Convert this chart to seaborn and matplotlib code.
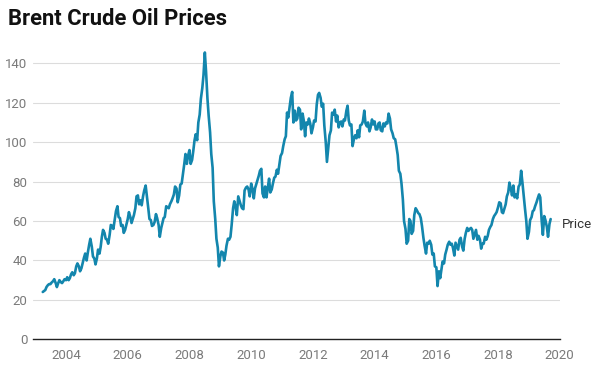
import pandas as pd
import numpy as np
import matplotlib
matplotlib.use("Agg")
import matplotlib.pyplot as plt
import seaborn as sns

# ====================
# 数据 (semi-monthly readings, USD per barrel)
# ====================
p2003 = [24.0, 24.5, 25.0, 26.5, 27.5, 28.0, 28.0, 28.8, 29.5, 30.5, 28.5, 26.5,
         28.5, 30.0, 29.0, 28.5, 29.5, 30.5]  # from April
p2004 = [30.0, 31.5, 30.0, 31.0, 33.0, 34.0, 32.5, 33.5, 37.0, 38.5, 37.0, 34.5,
         36.0, 38.5, 41.5, 43.5, 40.0, 44.0, 48.0, 51.0, 47.0, 42.0, 41.0, 38.0]
p2005 = [41.0, 45.5, 43.5, 47.0, 52.0, 55.5, 54.0, 51.0, 50.5, 48.5, 53.0, 58.0,
         57.5, 56.0, 61.0, 65.0, 67.5, 62.0, 61.5, 57.5, 58.0, 54.0, 55.5, 58.0]
p2006 = [61.0, 64.5, 62.0, 59.0, 61.0, 63.0, 66.5, 72.5, 73.0, 68.5, 70.5, 68.0,
         72.5, 75.5, 78.0, 73.0, 66.5, 61.0, 60.5, 57.5, 58.0, 59.5, 63.5, 61.5]
p2007 = [58.0, 52.0, 56.5, 59.0, 61.5, 62.0, 67.5, 67.0, 66.5, 68.5, 70.0, 71.5,
         73.5, 77.5, 76.5, 69.5, 73.0, 78.5, 79.0, 83.5, 89.0, 94.0, 89.0, 93.0]
p2008 = [96.0, 89.0, 91.0, 95.5, 101.0, 104.0, 101.0, 110.0, 114.0, 122.0, 127.5, 134.0,
         145.5, 136.0, 122.0, 113.5, 105.0, 94.0, 87.0, 70.0, 61.0, 51.0, 46.5, 37.0]
p2009 = [42.0, 44.5, 44.0, 40.0, 43.0, 47.5, 51.0, 50.5, 52.0, 58.0, 66.5, 70.0,
         67.0, 63.0, 72.5, 70.5, 68.0, 66.5, 66.0, 75.5, 77.0, 77.5, 76.0, 72.5]
p2010 = [79.0, 76.5, 71.5, 76.5, 78.5, 80.5, 83.0, 85.5, 86.5, 74.0, 72.0, 77.5,
         72.0, 76.5, 81.5, 74.5, 76.0, 79.0, 82.0, 82.5, 86.0, 84.0, 89.0, 93.0]
p2011 = [94.5, 98.0, 101.5, 103.0, 115.0, 112.5, 118.0, 122.5, 125.5, 110.0, 116.0, 111.0,
         112.0, 117.5, 116.5, 106.5, 114.5, 111.0, 103.0, 110.0, 109.0, 112.0, 109.5, 104.5]
p2012 = [107.5, 111.0, 110.5, 119.0, 124.0, 125.0, 122.5, 118.0, 119.5, 108.5, 100.0, 90.0,
         97.5, 103.5, 106.0, 115.0, 114.0, 116.5, 110.5, 113.5, 107.5, 110.0, 110.5, 108.0]
p2013 = [111.5, 111.0, 116.0, 118.5, 111.0, 108.5, 109.0, 98.0, 101.5, 103.5, 102.0, 106.0,
         102.5, 108.5, 109.0, 110.5, 116.0, 109.5, 108.0, 110.0, 105.5, 107.5, 111.5, 109.0]
p2014 = [110.5, 106.5, 106.5, 109.5, 110.0, 106.0, 105.5, 109.5, 108.0, 110.0, 109.5, 114.5,
         112.0, 106.5, 104.5, 102.0, 101.5, 98.0, 93.5, 85.5, 84.0, 79.0, 71.0, 60.0]
p2015 = [56.0, 48.5, 50.0, 61.0, 60.0, 53.5, 55.0, 63.0, 66.5, 65.5, 64.0, 63.5,
         61.5, 57.5, 51.5, 47.5, 43.5, 49.0, 48.5, 50.0, 48.0, 43.0, 43.5, 37.0]
p2016 = [36.5, 27.0, 34.5, 31.0, 35.5, 39.5, 38.5, 43.0, 45.5, 48.0, 49.5, 48.0,
         48.5, 46.5, 42.5, 49.0, 47.0, 45.5, 50.5, 51.5, 47.0, 45.0, 51.0, 54.0]
p2017 = [56.5, 55.0, 56.0, 56.5, 55.5, 51.0, 53.5, 55.5, 50.5, 52.5, 50.5, 46.0,
         48.5, 48.5, 52.0, 50.5, 52.5, 55.5, 57.0, 58.0, 61.0, 62.5, 63.5, 64.5]
p2018 = [67.0, 69.5, 69.0, 64.5, 64.0, 66.0, 68.5, 72.5, 74.5, 79.5, 76.5, 73.0,
         78.0, 72.0, 73.5, 71.5, 77.5, 78.5, 85.5, 80.0, 72.5, 66.5, 60.0, 51.0]
p2019 = [54.5, 60.5, 62.0, 65.0, 65.5, 67.5, 69.5, 71.5, 73.5, 72.0, 60.0, 53.0,
         62.5, 60.5, 57.0, 52.0, 58.5, 61.0]  # to September

yearly = [(2003, 4, p2003), (2004, 1, p2004), (2005, 1, p2005), (2006, 1, p2006),
          (2007, 1, p2007), (2008, 1, p2008), (2009, 1, p2009), (2010, 1, p2010),
          (2011, 1, p2011), (2012, 1, p2012), (2013, 1, p2013), (2014, 1, p2014),
          (2015, 1, p2015), (2016, 1, p2016), (2017, 1, p2017), (2018, 1, p2018),
          (2019, 1, p2019)]

x_ticks = list(range(2004, 2021, 2))
y_ticks = list(range(0, 141, 20))

# build frame
parts = []
for year, month, vals in yearly:
    dates = pd.date_range(f"{year}-{month:02d}-01", periods=len(vals), freq="SMS")
    parts.append(pd.DataFrame({"date": dates, "Price": vals}))
df = pd.concat(parts, ignore_index=True)
df["year"] = df["date"].dt.year + (df["date"].dt.dayofyear - 1) / 365.25

# ====================
# 绘图
# ====================
sns.set_style("white")
plt.rcParams["font.family"] = ["Roboto", "DejaVu Sans"]

fig = plt.figure(figsize=(6, 3.77), dpi=100)
ax = fig.add_axes([0.055, 0.1, 0.878, 0.7843])

sns.lineplot(data=df, x="year", y="Price", ax=ax, color="#1386ad", linewidth=1.9)

ax.set_xlim(2002.93, 2020.0)
ax.set_ylim(0, 150)
ax.set_xticks(x_ticks)
ax.set_yticks(y_ticks)
ax.set_xlabel("")
ax.set_ylabel("")
ax.yaxis.grid(True, color="#dcdcdc", linewidth=0.8)
ax.xaxis.grid(False)
for s in ["top", "right", "left"]:
    ax.spines[s].set_visible(False)
ax.spines["bottom"].set_color("#222222")
ax.spines["bottom"].set_linewidth(1.0)
ax.tick_params(axis="both", length=0, labelsize=9.5, colors="#7a7a7a")
ax.tick_params(axis="y", pad=4)
ax.tick_params(axis="x", pad=7)

last = df.iloc[-1]
ax.annotate("Price", xy=(last["year"], last["Price"]), xytext=(8, -4),
            textcoords="offset points", va="center", ha="left",
            fontsize=9.5, color="#333333", annotation_clip=False)

fig.text(0.013, 1 - 25 / 377, "Brent Crude Oil Prices", fontsize=15.8,
         fontweight="bold", color="#111111", va="baseline", ha="left")

fig.savefig("out.png", dpi=100)
